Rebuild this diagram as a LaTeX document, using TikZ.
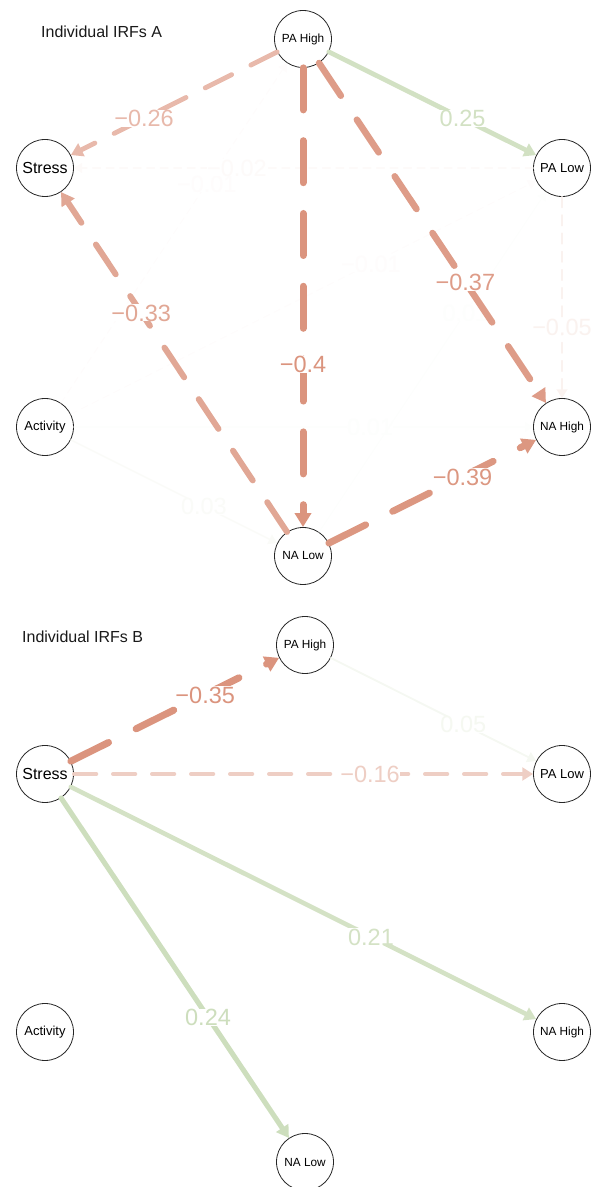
\documentclass[tikz,border=0pt]{standalone}
\usepackage{fontspec}
\setmainfont{Liberation Sans}
\usepackage{xcolor}
\definecolor{negred}{RGB}{219,148,126}
\definecolor{posgreen}{RGB}{183,207,159}
\usetikzlibrary{arrows.meta,positioning}

\begin{document}
\begin{tikzpicture}[x=1pt,y=1pt,on grid,line cap=round]
    \tikzset{
        vbl/.style={circle,draw=black!85,line width=0.8pt,fill=white,minimum size=57pt,inner sep=0pt,text=black},
        big/.style={font=\fontsize{16}{16}\selectfont},
        mid/.style={font=\fontsize{13}{13}\selectfont},
        sml/.style={font=\fontsize{11.8}{12}\selectfont},
        heading/.style={anchor=west,inner sep=0pt,text=black!90,font=\fontsize{16}{16}\selectfont},
        lab/.style={pos=.645,fill=white,inner sep=0pt,text height=17pt,text depth=0pt,font=\fontsize{23.5}{24}\selectfont},
        negw/.style 2 args={color=negred!#1!white,line width=#2pt,dash pattern=on 6*#2pt off 4.4*#2pt,-{Triangle[length=7pt 1,width=9pt 1]}},
        posw/.style 2 args={color=posgreen!#1!white,line width=#2pt,-{Triangle[length=7pt 1,width=9pt 1]}}
    }
    \useasboundingbox (0,0) rectangle (597,1187);

    % panel A
    \node[heading] (tA) at (41,1155) {Individual IRFs A};
    \node[vbl,big] (S)  at (45,1019)                        {Stress};
    \node[vbl,sml] (PH) [above right=129pt and 258pt of S]  {PA High};
    \node[vbl,mid] (PL) [right=517pt of S]                  {PA Low};
    \node[vbl,mid] (A)  [below=259pt of S]                  {Activity};
    \node[vbl,sml] (NH) [right=517pt of A]                  {NA High};
    \node[vbl,sml] (NL) [below right=129pt and 258pt of A]  {NA Low};

    \path (A)  edge [posw={2.5}{1.15}]  node[lab] {0.01}  (NH)
          (NL) edge [posw={2.5}{1.15}]  node[lab] {0.01}  (PL)
          (A)  edge [negw={2.5}{1.15}]  node[lab] {−0.01} (PH)
               edge [negw={2.5}{1.15}]  node[lab] {−0.01} (PL)
          (PL) edge [negw={5}{1.3}]     node[lab] {−0.02} (S)
          (A)  edge [posw={7.5}{1.45}]  node[lab] {0.03}  (NL)
          (PL) edge [negw={12.5}{1.75}] node[lab] {−0.05} (NH)
          (PH) edge [posw={62.5}{4.75}] node[lab] {0.25}  (PL)
               edge [negw={65}{4.9}]    node[lab] {−0.26} (S)
          (NL) edge [negw={82.5}{5.95}] node[lab] {−0.33} (S)
          (PH) edge [negw={92.5}{6.55}] node[lab] {−0.37} (NH)
          (NL) edge [negw={97.5}{6.85}] node[lab] {−0.39} (NH)
          (PH) edge [negw={100}{7}]     node[lab] {−0.4}  (NL);

    % panel B
    \node[heading] (tB) at (22,550) {Individual IRFs B};
    \node[vbl,big] (S2)  [below=606pt of S]                   {Stress};
    \node[vbl,sml] (PH2) [above right=129pt and 260pt of S2]  {PA High};
    \node[vbl,mid] (PL2) [right=517pt of S2]                  {PA Low};
    \node[vbl,mid] (A2)  [below=258pt of S2]                  {Activity};
    \node[vbl,sml] (NH2) [right=517pt of A2]                  {NA High};
    \node[vbl,sml] (NL2) [below right=130pt and 260pt of A2]  {NA Low};

    \path (PH2) edge [posw={14}{1.86}] node[lab] {0.05}  (PL2)
          (S2)  edge [negw={46}{3.75}] node[lab] {−0.16} (PL2)
                edge [posw={60}{4.6}]  node[lab] {0.21}  (NH2)
                edge [posw={69}{5.1}]  node[lab] {0.24}  (NL2)
                edge [negw={100}{7}]   node[lab] {−0.35} (PH2);
\end{tikzpicture}
\end{document}
